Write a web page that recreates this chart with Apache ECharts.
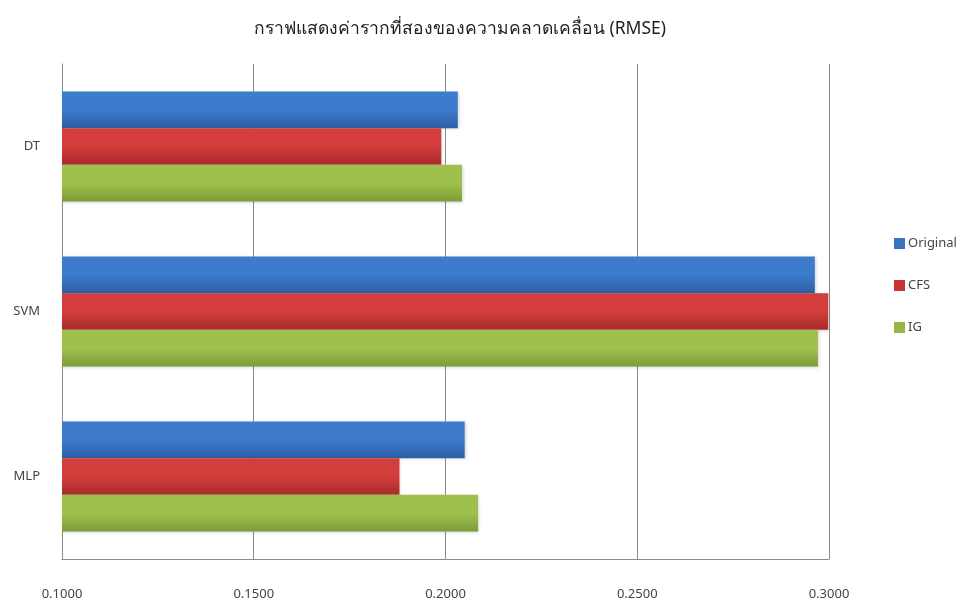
<!DOCTYPE html>
<html>
<head>
<meta charset="utf-8">
<style>
  html, body { margin: 0; padding: 0; background: #fff; }
  #chart { width: 971px; height: 603px; }
</style>
<script src="https://cdn.jsdelivr.net/npm/echarts@6/dist/echarts.min.js"></script>
</head>
<body>
<div id="chart"></div>
<script>
// RMSE per classifier and feature-selection method
const categories = ['DT', 'SVM', 'MLP'];
const seriesNames = ['Original', 'CFS', 'IG'];
const originalValues = [0.2032, 0.2963, 0.2050];
const cfsValues = [0.1989, 0.2998, 0.1880];
const igValues = [0.2043, 0.2971, 0.2085];
const tickLabels = ['0.1000', '0.1500', '0.2000', '0.2500', '0.3000'];

const FONT = '"Noto Sans", "DejaVu Sans", sans-serif';

function grad(top, bottom) {
  return new echarts.graphic.LinearGradient(0, 0, 0, 1, [
    { offset: 0, color: top },
    { offset: 0.5, color: top },
    { offset: 1, color: bottom }
  ]);
}

const palette = [
  { top: '#3d7bcc', bottom: '#2c5ea6', legend: '#3a72c0' },
  { top: '#d33d3c', bottom: '#a92a2b', legend: '#c83435' },
  { top: '#a0c04e', bottom: '#7e9c37', legend: '#96b647' }
];
const valueSets = [originalValues, cfsValues, igValues];

const chart = echarts.init(document.getElementById('chart'));
chart.setOption({
  animation: false,
  backgroundColor: '#ffffff',
  title: {
    text: 'กราฟแสดงค่ารากที่สองของความคลาดเคลื่อน (RMSE)',
    left: 455,
    top: 15,
    textAlign: 'center',
    textStyle: { fontFamily: FONT, fontSize: 17.5, fontWeight: 'normal', color: '#1e1e1e' }
  },
  legend: {
    orient: 'vertical',
    left: 889,
    top: 232,
    itemWidth: 11,
    itemHeight: 11,
    itemGap: 29,
    icon: 'rect',
    textStyle: { fontFamily: FONT, fontSize: 13, color: '#444', padding: [0, 0, 0, -2] },
    data: seriesNames.map((n, i) => ({ name: n, itemStyle: { color: palette[i].legend } }))
  },
  grid: { left: 62, right: 142, top: 64, bottom: 44 },
  xAxis: {
    type: 'value',
    min: 0.1,
    max: 0.3,
    interval: 0.05,
    axisLine: { show: true, lineStyle: { color: '#8a8a8a' } },
    axisTick: { show: false },
    splitLine: { show: true, lineStyle: { color: '#8a8a8a', width: 1 } },
    axisLabel: {
      margin: 29,
      fontFamily: FONT,
      fontSize: 13,
      color: '#444',
      formatter: (v) => tickLabels[Math.round((v - 0.1) / 0.05)]
    }
  },
  yAxis: {
    type: 'category',
    inverse: true,
    data: categories,
    axisLine: { show: true, lineStyle: { color: '#8a8a8a' } },
    axisTick: { show: false },
    axisLabel: { margin: 22, fontFamily: FONT, fontSize: 13, color: '#444' }
  },
  series: seriesNames.map((name, i) => ({
    name: name,
    type: 'bar',
    data: valueSets[i],
    barCategoryGap: '33.3%',
    barGap: '0%',
    itemStyle: {
      color: grad(palette[i].top, palette[i].bottom),
      shadowColor: 'rgba(0,0,0,0.18)',
      shadowBlur: 3,
      shadowOffsetX: 1,
      shadowOffsetY: 1
    }
  }))
});
</script>
</body>
</html>
